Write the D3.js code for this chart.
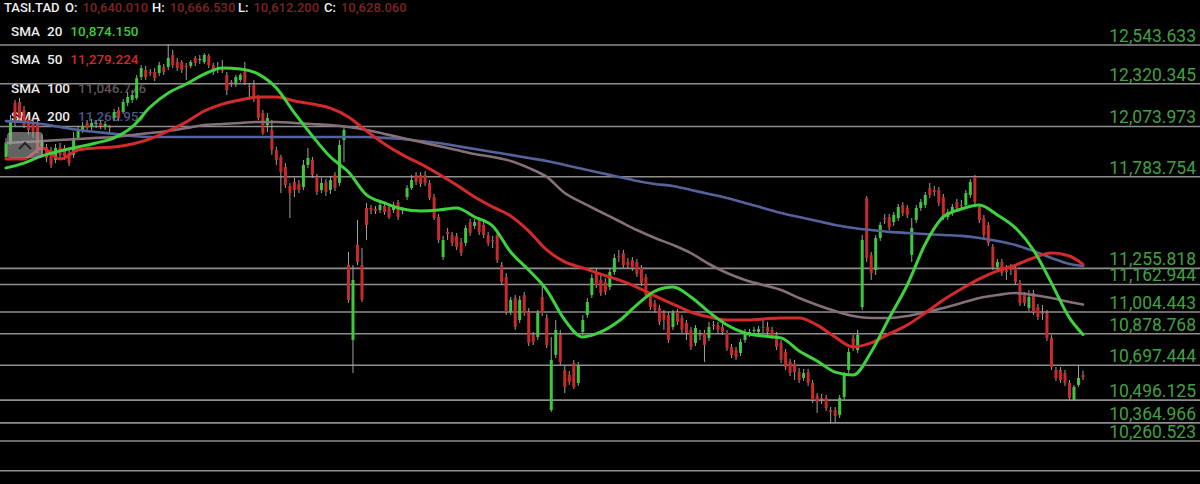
<!DOCTYPE html>
<html><head><meta charset="utf-8">
<script src="https://cdn.jsdelivr.net/npm/d3@7"></script>
<style>html,body{margin:0;padding:0;background:#000;overflow:hidden}svg{display:block}</style>
</head><body>
<svg id="c" width="1200" height="484"></svg>
<script>
// ---------- DATA ----------
const symbol = "TASI.TAD";
const ohlcLabels = ["O:", "H:", "L:", "C:"];
const ohlcValues = [10640.010, 10666.530, 10612.200, 10628.060];

const priceLevels = [12543.633, 12320.345, 12073.973, 11783.754, 11255.818, 11162.944,
  11004.443, 10878.768, 10697.444, 10496.125, 10364.966, 10260.523];
const extraLevels = [10089.3];

const smaPeriods = [20, 50, 100, 200];
const smaLegendValues = [10874.150, 11279.224, 11046.776, 11268.957];

// candles: [open, high, low, close]
const candles = [
[11898,12008,11881,11979],[11984,12140,11967,12100],[12209,12227,12077,12094],[12215,12238,12100,12123],
[12169,12192,12065,12082],[12111,12129,12025,12054],[12100,12123,12008,12042],[12094,12111,11921,11938],
[11938,12025,11910,11996],[11956,11973,11869,11892],[11938,11956,11835,11852],[11881,11973,11863,11950],
[11956,11979,11892,11910],[11950,11967,11881,11904],[11921,11938,11846,11863],[11910,12042,11892,12008],
[12008,12077,11996,12054],[12048,12100,12036,12077],[12094,12111,12048,12065],[12071,12117,12054,12094],
[12088,12111,12065,12094],[12094,12111,12059,12077],[12071,12105,12054,12088],[12071,12082,12036,12065],
[12123,12175,12105,12157],[12169,12186,12105,12123],[12157,12232,12146,12215],[12209,12273,12192,12244],
[12227,12284,12209,12255],[12238,12371,12227,12353],[12359,12428,12342,12411],[12400,12423,12342,12359],
[12388,12405,12365,12382],[12388,12411,12336,12353],[12382,12446,12365,12428],[12417,12434,12371,12388],
[12417,12549,12400,12469],[12486,12515,12411,12428],[12446,12469,12394,12411],[12446,12457,12382,12400],
[12423,12440,12342,12417],[12423,12457,12411,12446],[12469,12480,12423,12440],[12457,12486,12434,12463],
[12446,12497,12434,12486],[12480,12492,12411,12428],[12428,12440,12371,12388],[12411,12446,12382,12405],
[12400,12457,12382,12394],[12371,12388,12255,12284],[12330,12342,12301,12325],[12325,12371,12301,12359],
[12342,12382,12330,12371],[12388,12446,12313,12330],[12307,12325,12227,12301],[12313,12342,12215,12238],
[12238,12255,12111,12123],[12152,12169,12025,12036],[12082,12152,12042,12123],[12054,12111,11910,11938],
[11938,11956,11852,11881],[11898,11910,11690,11811],[11840,11863,11719,11736],[11731,11748,11546,11690],
[11754,11777,11667,11708],[11742,11765,11690,11708],[11725,11881,11708,11852],[11852,11950,11835,11892],
[11881,11898,11777,11794],[11783,11800,11679,11696],[11708,11777,11690,11748],[11754,11771,11673,11696],
[11708,11788,11685,11765],[11794,11811,11702,11719],[11748,11996,11731,11967],[11996,12071,11869,12054],
[11275,11350,11056,11074],[10843,11275,10653,11189],[11391,11535,11275,11293],[11275,11373,11062,11074],
[11604,11633,11419,11506],[11604,11621,11569,11592],[11598,11615,11569,11587],[11592,11638,11575,11621],
[11615,11633,11564,11581],[11610,11627,11540,11552],[11592,11638,11575,11621],[11638,11650,11535,11552],
[11592,11610,11569,11587],[11667,11736,11650,11719],[11719,11794,11708,11765],[11794,11811,11736,11754],
[11794,11811,11725,11742],[11794,11817,11731,11748],[11748,11765,11650,11662],[11667,11685,11535,11546],
[11552,11569,11402,11419],[11321,11443,11304,11419],[11466,11489,11419,11454],[11448,11466,11385,11402],
[11443,11460,11362,11379],[11408,11431,11327,11344],[11402,11506,11385,11489],[11523,11540,11443,11460],
[11500,11540,11483,11523],[11535,11552,11448,11466],[11506,11523,11431,11448],[11448,11466,11385,11402],
[11419,11443,11373,11414],[11448,11466,11287,11304],[11275,11293,11160,11177],[11206,11229,10987,11004],
[11004,11091,10987,11074],[11085,11102,10901,10918],[10958,11097,10941,11074],[11102,11120,10981,10999],
[11004,11027,10808,10826],[10872,10889,10814,10831],[10860,11016,10843,10999],[11091,11160,10981,10999],
[10970,10993,10797,10814],[10439,10860,10428,10728],[10757,10958,10739,10901],[10872,10901,10699,10716],
[10670,10693,10537,10572],[10641,10664,10584,10601],[10710,10728,10560,10572],[10595,10716,10578,10699],
[10889,10987,10872,10958],[10987,11085,10970,11062],[11102,11223,11085,11200],[11229,11258,11143,11160],
[11189,11218,11097,11114],[11177,11200,11102,11120],[11148,11258,11131,11235],[11235,11339,11218,11316],
[11327,11362,11293,11321],[11344,11362,11258,11275],[11293,11316,11258,11275],[11304,11321,11241,11258],
[11293,11310,11206,11223],[11258,11275,11154,11171],[11206,11223,11085,11102],[11102,11120,11016,11033],
[11056,11074,10999,11016],[11027,11045,10929,10947],[10999,11016,10901,10958],[10987,11004,10826,10843],
[10918,11016,10901,10999],[11004,11022,10929,10947],[10970,10987,10883,10901],[10941,10958,10843,10883],
[10901,10918,10785,10803],[10826,10929,10808,10912],[10872,10901,10843,10866],[10883,10901,10716,10814],
[10855,10947,10837,10918],[10929,10952,10901,10924],[10929,10947,10883,10901],[10918,10935,10872,10889],
[10883,10901,10780,10797],[10803,10820,10739,10757],[10785,10803,10728,10745],[10768,10849,10751,10831],
[10843,10906,10826,10889],[10883,10906,10860,10889],[10895,10918,10878,10901],[10889,10924,10872,10906],
[10918,10958,10883,10912],[10918,10947,10872,10889],[10901,10918,10849,10866],[10872,10889,10785,10803],
[10826,10843,10710,10728],[10774,10791,10670,10687],[10716,10733,10635,10653],[10705,10728,10612,10658],
[10658,10682,10595,10612],[10624,10676,10607,10653],[10658,10676,10578,10595],[10595,10612,10480,10497],
[10520,10537,10422,10485],[10509,10532,10474,10503],[10509,10526,10434,10451],[10439,10457,10364,10428],
[10439,10457,10364,10405],[10411,10526,10393,10509],[10515,10658,10497,10641],[10670,10797,10653,10774],
[10855,10872,10780,10797],[10785,10901,10768,10872],[11033,11448,11016,11419],[11662,11673,11293,11316],
[11333,11350,11189,11229],[11246,11448,11218,11431],[11431,11523,11414,11506],[11546,11569,11512,11540],
[11552,11569,11477,11494],[11523,11581,11500,11564],[11546,11627,11529,11610],[11621,11638,11558,11575],
[11604,11621,11546,11564],[11333,11546,11293,11489],[11535,11621,11517,11604],[11604,11656,11587,11638],
[11621,11696,11604,11679],[11719,11748,11662,11679],[11708,11731,11673,11696],[11708,11725,11615,11633],
[11667,11685,11535,11552],[11552,11598,11535,11581],[11575,11627,11558,11610],[11638,11656,11587,11604],
[11621,11650,11592,11615],[11621,11708,11604,11690],[11679,11771,11662,11754],[11783,11794,11621,11638],
[11610,11627,11517,11535],[11546,11564,11431,11448],[11506,11523,11385,11402],[11379,11396,11246,11264],
[11264,11310,11246,11293],[11293,11310,11212,11229],[11246,11275,11189,11235],[11258,11281,11218,11246],
[11258,11275,11160,11177],[11171,11189,11039,11056],[11102,11120,11039,11056],[11027,11131,11010,11091],
[11114,11131,10987,11004],[11033,11050,10958,10976],[10999,11045,10958,10993],[10999,11016,10837,10855],
[10855,10872,10670,10687],[10670,10687,10607,10624],[10670,10687,10595,10612],[10653,10670,10578,10595],
[10595,10612,10491,10509],[10497,10584,10491,10572],[10584,10699,10572,10624],[10640.01,10666.53,10612.2,10628.06]
];

const smaDays = [0,4,8,12,16,20,24,28,32,36,40,44,48,52,56,60,64,68,72,76,80,84,88,92,96,100,
  104,108,112,116,120,124,128,132,136,140,144,148,152,156,160,164,168,172,176,180,184,188,192,196,
  200,204,208,212,216,220,224,228,232,236,239];

const sma20 = [11835,11863,11904,11933,11956,11979,12008,12071,12186,12267,12319,12376,12411,12405,12376,12296,
  12152,12019,11898,11811,11679,11633,11598,11587,11592,11604,11552,11500,11350,11246,11131,10958,10860,10889,
  10952,11045,11125,11148,11091,11004,10929,10883,10866,10855,10780,10722,10658,10641,10774,10970,11160,11396,
  11552,11598,11621,11564,11489,11362,11171,10970,10874];
const sma50 = [11886,11886,11950,11886,11938,11950,11956,11973,12002,12048,12100,12163,12203,12227,12244,12244,
  12221,12203,12180,12129,12048,11973,11910,11858,11800,11736,11667,11610,11558,11471,11362,11293,11258,11223,
  11189,11148,11097,11050,11004,10976,10958,10958,10964,10970,10970,10929,10860,10803,10826,10878,10929,10999,
  11074,11137,11195,11241,11275,11316,11344,11327,11279];
const sma100 = [11979,11984,11990,11996,12002,12008,12013,12025,12036,12048,12065,12082,12088,12094,12100,12100,
  12094,12088,12082,12071,12054,12031,12008,11984,11961,11938,11915,11898,11875,11835,11783,11690,11633,11581,
  11529,11477,11431,11391,11344,11281,11229,11189,11160,11131,11085,11045,11010,10981,10970,10970,10981,11004,
  11027,11056,11085,11102,11114,11102,11085,11062,11047];
const sma200 = [12105,12100,12088,12071,12054,12042,12031,12019,12013,12013,12013,12013,12013,12013,12013,12013,
  12013,12013,12013,12013,12013,12008,12002,11990,11979,11961,11944,11927,11910,11892,11875,11852,11829,11806,
  11783,11760,11742,11731,11708,11685,11662,11633,11604,11575,11552,11529,11506,11489,11477,11466,11460,11454,
  11448,11443,11431,11414,11391,11356,11316,11281,11269];

// ---------- DRAW ----------
const W = 1200, H = 484;
const svg = d3.select("#c");
svg.append("rect").attr("width", W).attr("height", H).attr("fill", "#000");

const x = d3.scaleLinear().domain([0, candles.length - 1]).range([6, 1083]);
const y = d3.scaleLinear().domain([10260.523, 12543.633]).range([441, 45]);
const fmt = d3.format(",.3f");
const FONT = "Roboto, 'Open Sans', sans-serif";

// grid lines
svg.append("g").selectAll("line").data(priceLevels.concat(extraLevels)).join("line")
  .attr("x1", 0).attr("x2", W)
  .attr("y1", d => y(d)).attr("y2", d => y(d))
  .attr("stroke", "#8e8e8e").attr("stroke-width", 1.6);

// legend (under candles, as in the reference)
const smaColors = ["#3fd23f", "#d42a2a", "#85707a", "#56639a"];
const smaValueColors = ["#3ccc3c", "#d02a2a", "#625458", "#4a5684"];
const legend = svg.append("g").attr("font-family", FONT).attr("font-size", 13.5).attr("font-weight", 500);
const rowY = [36, 64, 93, 121];
smaPeriods.forEach((p, i) => {
  legend.append("text").attr("x", 11).attr("y", rowY[i]).attr("fill", "#ececec").text("SMA");
  const t = legend.append("text").attr("x", 47).attr("y", rowY[i]).attr("fill", "#ececec").text(p);
  const w = t.node().getComputedTextLength();
  legend.append("text").attr("x", 47 + w + 8).attr("y", rowY[i]).attr("fill", smaValueColors[i])
    .text(fmt(smaLegendValues[i]));
});

// header
const head = svg.append("g").attr("font-family", FONT).attr("font-size", 13).attr("font-weight", 500);
head.append("text").attr("x", 4).attr("y", 12).attr("fill", "#f0f0f0").text(symbol);
const labX = [65, 152, 238, 324];
ohlcLabels.forEach((l, i) => {
  const t = head.append("text").attr("x", labX[i]).attr("y", 12).attr("fill", "#f0f0f0").text(l);
  const w = t.node().getComputedTextLength();
  head.append("text").attr("x", labX[i] + w + 5).attr("y", 12).attr("fill", "#7e2222").text(fmt(ohlcValues[i]));
});

// candles
const cg = svg.append("g");
const up = "#3fc83f", down = "#c92a2a";
cg.selectAll("line").data(candles).join("line")
  .attr("x1", (d, i) => x(i)).attr("x2", (d, i) => x(i))
  .attr("y1", d => y(d[1])).attr("y2", d => y(d[2]))
  .attr("stroke", "#a0a0a0").attr("stroke-width", 1);
cg.selectAll("rect").data(candles).join("rect")
  .attr("x", (d, i) => x(i) - 1.5).attr("width", 3)
  .attr("y", d => Math.min(y(d[0]), y(d[3])))
  .attr("height", d => Math.max(1, Math.abs(y(d[0]) - y(d[3]))))
  .attr("fill", d => d[3] > d[0] ? up : (d[3] < d[0] ? down : "#a0a0a0"));

// SMA lines
const line = d3.line().x((d, i) => x(smaDays[i])).y(d => y(d)).curve(d3.curveMonotoneX);
const smaSeries = [sma200, sma100, sma50, sma20];
const smaDraw = [
  {c: smaColors[3], w: 2.6}, {c: smaColors[2], w: 2.6}, {c: smaColors[1], w: 3}, {c: smaColors[0], w: 3}
];
smaSeries.forEach((s, k) => {
  svg.append("path").datum(s).attr("d", line).attr("fill", "none")
    .attr("stroke", smaDraw[k].c).attr("stroke-width", smaDraw[k].w)
    .attr("stroke-linejoin", "round").attr("stroke-linecap", "round");
});

// right labels
svg.append("g").attr("font-family", FONT).attr("font-size", 17.5)
  .selectAll("text").data(priceLevels).join("text")
  .attr("x", 1196).attr("y", d => y(d) - 3).attr("text-anchor", "end")
  .attr("fill", "#41a041").text(d => fmt(d));

// collapse button
const btn = svg.append("g");
btn.append("rect").attr("x", 7).attr("y", 132).attr("width", 36).attr("height", 26).attr("rx", 4)
  .attr("fill", "#a0a0a0").attr("fill-opacity", 0.62);
btn.append("path").attr("d", "M19,149 L25,143 L31,149").attr("fill", "none")
  .attr("stroke", "#262626").attr("stroke-width", 2);
</script>
</body></html>
